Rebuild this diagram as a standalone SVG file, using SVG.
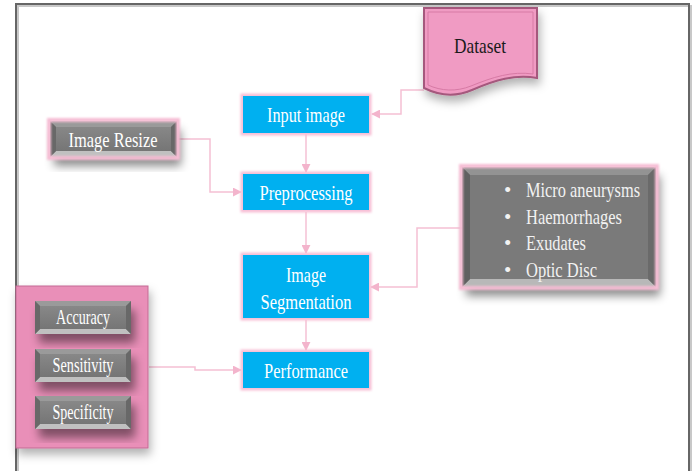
<svg xmlns="http://www.w3.org/2000/svg" width="693" height="471" viewBox="0 0 693 471">
<defs>
<style>
.frame{fill:none;stroke:#666;stroke-width:2}
.frameSh{fill:none;stroke:#c8c8c8;stroke-width:2}
.blue{fill:#00b0f0}
.bglow{fill:none;stroke:#f8bfd6;stroke-width:5}
.wt{font-family:"Liberation Serif","Times New Roman",serif;fill:#ffffff;font-size:22px;text-anchor:middle}
.gt{font-family:"Liberation Serif","Times New Roman",serif;fill:#f2f2f2;font-size:21px}
.conn{fill:none;stroke:#f5c0d4;stroke-width:1.5}
.face{fill:url(#gface)}
.bt{fill:#9a9a9a}
.bb{fill:#c0c0c0}
.bs{fill:#686868}
.glow{fill:none;stroke:#f6bdd4;stroke-width:4}
</style>
<linearGradient id="gface" x1="0" y1="0" x2="0" y2="1">
<stop offset="0" stop-color="#8c8c8c"/>
<stop offset="1" stop-color="#717171"/>
</linearGradient>
<filter id="sh" x="-20%" y="-20%" width="150%" height="160%">
<feDropShadow dx="4" dy="9" stdDeviation="5" flood-color="#000" flood-opacity="0.45"/>
</filter>
<filter id="sh2" x="-20%" y="-20%" width="150%" height="160%">
<feDropShadow dx="2" dy="6" stdDeviation="5" flood-color="#000" flood-opacity="0.3"/>
</filter>
<filter id="soft" x="-10%" y="-20%" width="120%" height="140%">
<feGaussianBlur stdDeviation="1.2"/>
</filter>
<marker id="arr" viewBox="0 0 10 10" refX="9" refY="5" markerWidth="6" markerHeight="6" orient="auto">
<path d="M0,0 L10,5 L0,10 Z" fill="#f3b4cc"/>
</marker>
</defs>
<rect width="693" height="471" fill="#ffffff"/>
<g id="frame">
<path class="frameSh" d="M18,471 V6 H691 V471"/>
<path class="frame" d="M16,471 V4 H689 V471"/>
</g>
<g id="connectors">
<path class="conn" d="M424,90 H401 V114 H372" marker-end="url(#arr)"/>
<path class="conn" d="M306,134 V172" marker-end="url(#arr)"/>
<path class="conn" d="M178,139 H210 V192 H241" marker-end="url(#arr)"/>
<path class="conn" d="M306,212 V253" marker-end="url(#arr)"/>
<path class="conn" d="M462,228 H417 V287 H371" marker-end="url(#arr)"/>
<path class="conn" d="M306,320 V350" marker-end="url(#arr)"/>
<path class="conn" d="M149,367 H195 V370 H241" marker-end="url(#arr)"/>
</g>
<g id="dataset">
<path d="M424,8 H537 V78 C515,74 495,80 472,90 C456,97 440,96 424,88 Z" fill="#f09bc3" stroke="#a5587d" stroke-width="2" filter="url(#sh2)"/>
<path d="M428,12 H533 V74 C512,71 493,77 471,86 C456,92 441,91 428,85 Z" fill="none" stroke="#d77aa5" stroke-width="1"/>
<text x="480" y="53" font-family="Liberation Serif,Times New Roman,serif" font-size="21" fill="#1a1a1a" text-anchor="middle" textLength="52" lengthAdjust="spacingAndGlyphs">Dataset</text>
</g>
<g id="input-image">
<rect class="bglow" x="243" y="96" width="126" height="37" filter="url(#soft)"/>
<rect class="blue" x="243" y="96" width="126" height="37"/>
<text class="wt" x="306" y="122" textLength="78" lengthAdjust="spacingAndGlyphs">Input image</text>
</g>
<g id="preprocessing">
<rect class="bglow" x="243" y="174" width="126" height="36" filter="url(#soft)"/>
<rect class="blue" x="243" y="174" width="126" height="36"/>
<text class="wt" x="306" y="200" textLength="93" lengthAdjust="spacingAndGlyphs">Preprocessing</text>
</g>
<g id="image-segmentation">
<rect class="bglow" x="243" y="255" width="126" height="63" filter="url(#soft)"/>
<rect class="blue" x="243" y="255" width="126" height="63"/>
<text class="wt" x="306" y="282" textLength="40" lengthAdjust="spacingAndGlyphs">Image</text>
<text class="wt" x="306" y="309" textLength="91" lengthAdjust="spacingAndGlyphs">Segmentation</text>
</g>
<g id="performance">
<rect class="bglow" x="243" y="352" width="126" height="36" filter="url(#soft)"/>
<rect class="blue" x="243" y="352" width="126" height="36"/>
<text class="wt" x="306" y="378" textLength="84" lengthAdjust="spacingAndGlyphs">Performance</text>
</g>
<g id="image-resize">
<rect x="50" y="121" width="127" height="36" fill="#7a7a7a" filter="url(#sh)"/>
<rect class="face" x="50" y="121" width="127" height="36"/>
<polygon class="bt" points="50,121 177,121 171,127 56,127"/>
<polygon class="bb" points="50,157 177,157 171,151 56,151"/>
<polygon class="bs" points="50,121 56,127 56,151 50,157"/>
<polygon class="bs" points="177,121 171,127 171,151 177,157"/>
<rect class="glow" x="49" y="120" width="129" height="38" filter="url(#soft)"/>
<text class="wt" x="113" y="147" font-size="21" fill="#eeeeee" textLength="89" lengthAdjust="spacingAndGlyphs">Image Resize</text>
</g>
<g id="lesions">
<rect x="462" y="167" width="194" height="120" fill="#7a7a7a" filter="url(#sh)"/>
<rect x="462" y="167" width="194" height="120" fill="#7a7a7a"/>
<polygon points="462,167 656,167 648,175 470,175" fill="#939393"/>
<polygon points="462,287 656,287 648,279 470,279" fill="#b8b8b8"/>
<polygon points="462,167 470,175 470,279 462,287" fill="#616161"/>
<polygon points="656,167 648,175 648,279 656,287" fill="#6a6a6a"/>
<rect class="glow" x="461" y="166" width="196" height="122" filter="url(#soft)"/>
<g class="gt">
<text x="504" y="197">•</text>
<text x="526" y="197" textLength="114" lengthAdjust="spacingAndGlyphs">Micro aneurysms</text>
<text x="504" y="224">•</text>
<text x="526" y="224" textLength="96" lengthAdjust="spacingAndGlyphs">Haemorrhages</text>
<text x="504" y="250">•</text>
<text x="526" y="250" textLength="60" lengthAdjust="spacingAndGlyphs">Exudates</text>
<text x="504" y="277">•</text>
<text x="526" y="277" textLength="71" lengthAdjust="spacingAndGlyphs">Optic Disc</text>
</g>
</g>
<g id="metrics">
<rect x="16" y="286" width="132" height="162" fill="#e98fb8" stroke="#c36a94" stroke-width="1" filter="url(#sh2)"/>
<g id="accuracy">
<rect x="35" y="301" width="96" height="33" fill="#7a7a7a" filter="url(#sh)"/>
<rect class="face" x="35" y="301" width="96" height="33"/>
<polygon class="bt" points="35,301 131,301 126,306 40,306"/>
<polygon class="bb" points="35,334 131,334 126,329 40,329"/>
<polygon class="bs" points="35,301 40,306 40,329 35,334"/>
<polygon class="bs" points="131,301 126,306 126,329 131,334"/>
<text class="wt" x="83" y="324" font-size="18" fill="#eeeeee" textLength="54" lengthAdjust="spacingAndGlyphs">Accuracy</text>
</g>
<g id="sensitivity">
<rect x="35" y="349" width="96" height="33" fill="#7a7a7a" filter="url(#sh)"/>
<rect class="face" x="35" y="349" width="96" height="33"/>
<polygon class="bt" points="35,349 131,349 126,354 40,354"/>
<polygon class="bb" points="35,382 131,382 126,377 40,377"/>
<polygon class="bs" points="35,349 40,354 40,377 35,382"/>
<polygon class="bs" points="131,349 126,354 126,377 131,382"/>
<text class="wt" x="83" y="372" font-size="18" fill="#eeeeee" textLength="61" lengthAdjust="spacingAndGlyphs">Sensitivity</text>
</g>
<g id="specificity">
<rect x="35" y="396" width="96" height="33" fill="#7a7a7a" filter="url(#sh)"/>
<rect class="face" x="35" y="396" width="96" height="33"/>
<polygon class="bt" points="35,396 131,396 126,401 40,401"/>
<polygon class="bb" points="35,429 131,429 126,424 40,424"/>
<polygon class="bs" points="35,396 40,401 40,424 35,429"/>
<polygon class="bs" points="131,396 126,401 126,424 131,429"/>
<text class="wt" x="83" y="419" font-size="18" fill="#eeeeee" textLength="61" lengthAdjust="spacingAndGlyphs">Specificity</text>
</g>
</g>
</svg>
